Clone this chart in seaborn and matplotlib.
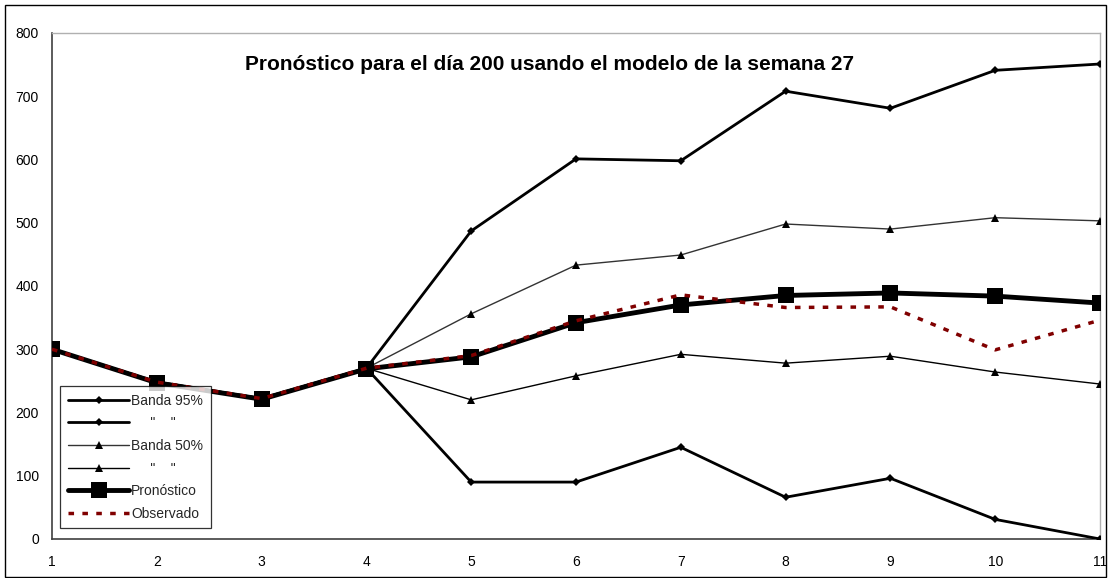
import matplotlib
matplotlib.use("Agg")
import matplotlib.pyplot as plt
from matplotlib.patches import Rectangle
import seaborn as sns

# Forecast for day 200 with the week-27 model
horizonte = [1, 2, 3, 4, 5, 6, 7, 8, 9, 10, 11]
banda95_sup = [300, 248, 222, 270, 487, 601, 598, 708, 681, 741, 751]
banda95_inf = [300, 248, 222, 270, 90, 90, 145, 66, 96, 31, 0]
banda50_sup = [300, 248, 222, 270, 356, 433, 449, 498, 490, 508, 503]
banda50_inf = [300, 248, 222, 270, 220, 258, 292, 278, 289, 264, 245]
pronostico = [300, 247, 221, 269, 288, 342, 370, 385, 389, 384, 373]
observado = [300, 248, 222, 270, 290, 345, 386, 366, 367, 299, 346]

titulo = "Pronóstico para el día 200 usando el modelo de la semana 27"
yticks = [0, 100, 200, 300, 400, 500, 600, 700, 800]

sns.set_theme(style="white")
plt.rcParams["font.family"] = ["Liberation Sans", "DejaVu Sans"]

fig = plt.figure(figsize=(11.09, 5.78), dpi=100)
ax = fig.add_axes([52 / 1109, 1 - 539 / 578, 1048 / 1109, 506 / 578])

series = [
    (banda95_sup, "Banda 95%", dict(color="black", lw=2.0, marker="D", ms=4.5)),
    (banda95_inf, '     "    "', dict(color="black", lw=2.0, marker="D", ms=4.5)),
    (banda50_sup, "Banda 50%", dict(color="#333333", lw=1.0, marker="^", ms=6)),
    (banda50_inf, '     "    "', dict(color="black", lw=1.0, marker="^", ms=6)),
    (pronostico, "Pronóstico", dict(color="black", lw=3.5, marker="s", ms=11)),
]
for valores, etiqueta, estilo in series:
    sns.lineplot(x=horizonte, y=valores, ax=ax, label=etiqueta,
                 color=estilo["color"], linewidth=estilo["lw"],
                 marker=estilo["marker"], markersize=estilo["ms"],
                 markeredgewidth=0, markerfacecolor="black", zorder=3)

sns.lineplot(x=horizonte, y=observado, ax=ax, label="Observado",
             color="#800000", linewidth=2.5, linestyle=(0, (1.6, 2.4)), zorder=4)

ax.set_xlim(1, 11)
ax.set_ylim(0, 800)
ax.set_xticks(horizonte)
ax.set_yticks(yticks)
ax.tick_params(axis="both", direction="inout", length=7, width=0.8,
               colors="black", labelsize=10, pad=6)
ax.tick_params(axis="x", pad=8)
ax.set_xlabel("")
ax.set_ylabel("")

for lado in ("left", "bottom"):
    ax.spines[lado].set_color("#404040")
    ax.spines[lado].set_linewidth(1.2)
for lado in ("top", "right"):
    ax.spines[lado].set_color("#b0b0b0")
    ax.spines[lado].set_linewidth(1.0)

ax.text(0.475, 0.937, titulo, transform=ax.transAxes, ha="center", va="center",
        fontsize=15, fontweight="bold", color="black")

leg = ax.legend(loc="lower left", bbox_to_anchor=(0.008, 0.021), fontsize=10,
                frameon=True, fancybox=False, shadow=False, handlelength=4.4,
                handletextpad=0.15, labelspacing=0.62, borderpad=0.55,
                borderaxespad=0)
leg.get_frame().set_edgecolor("black")
leg.get_frame().set_linewidth(0.9)
leg.set_zorder(5)

fig.patches.append(Rectangle((5 / 1109, 1 / 578), 1101 / 1109, 572 / 578,
                             transform=fig.transFigure, fill=False,
                             edgecolor="black", linewidth=1.0))

fig.savefig("out.png", dpi=100, facecolor="white")
